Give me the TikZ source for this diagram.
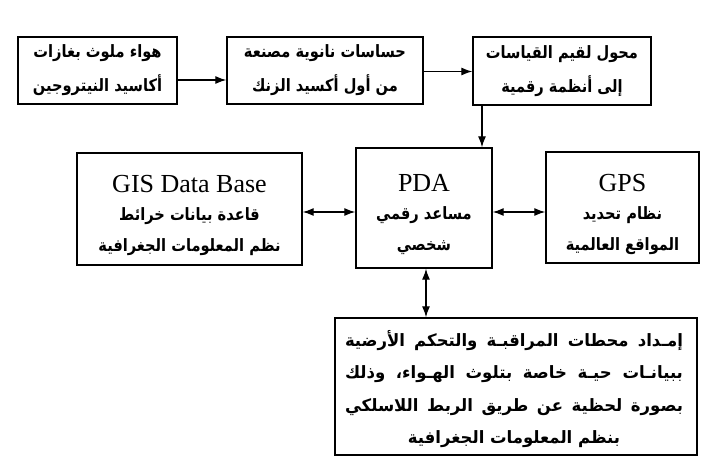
\documentclass[tikz,border=0pt]{standalone}
\usepackage{fontspec}
\setmainfont{Liberation Serif}
\newfontfamily\arabicfont[Script=Arabic,FakeStretch=0.86]{DejaVu Sans}
\newfontfamily\arabicwide[Script=Arabic,FakeStretch=0.97]{DejaVu Sans}
\TeXXeTstate=1
\usetikzlibrary{arrows.meta,calc}
\tikzset{
  box/.style={draw=black, line width=1.4pt, fill=white, align=center, inner sep=0pt},
  ar/.style={align=center, inner sep=0pt, font=\arabicfont\bfseries\fontsize{17}{34}\selectfont},
  ar3/.style={align=center, inner sep=0pt, font=\arabicfont\bfseries\fontsize{17}{31}\selectfont},
  arr/.style={line width=1.2pt, -{Latex[length=11pt,width=8pt]}},
  darr/.style={line width=1.2pt, {Latex[length=11pt,width=8pt]}-{Latex[length=11pt,width=8pt]}},
}
\newcommand{\rl}[1]{\beginR #1\endR}
\newcommand{\rlj}[1]{\makebox[338pt][s]{\arabicwide\bfseries\beginR #1\endR}}
\newcommand{\rlw}[1]{{\arabicwide\bfseries\beginR #1\endR}}
\newcommand{\lat}[1]{{\normalfont\fontsize{26}{30}\selectfont #1}}
\begin{document}
\begin{tikzpicture}[x=1pt,y=-1pt]
\useasboundingbox[fill=white] (0,0) rectangle (714,463);
\node[box, ar, minimum width=159pt, minimum height=67pt] (b1) at (97.5,70.5)
  {\rl{هواء ملوث بغازات}\\\rl{أكاسيد النيتروجين}};
\node[box, ar, minimum width=196pt, minimum height=67pt] (b2) at (325,70.5)
  {\rl{حساسات نانوية مصنعة}\\\rl{من أول أكسيد الزنك}};
\node[box, ar, minimum width=178pt, minimum height=68pt] (b3) at (562,71)
  {\rl{محول لقيم القياسات}\\\rl{إلى أنظمة رقمية}};
\node[box, minimum width=225pt, minimum height=112pt] (gis) at (189.5,209) {};
\node[ar3] (gist) at (189.5,215)
  {\lat{GIS Data Base}\\[-3pt]\rl{قاعدة بيانات خرائط}\\\rl{نظم المعلومات الجغرافية}};
\node[box, minimum width=136pt, minimum height=120pt] (pda) at (424,208) {};
\node[ar3] (pdat) at (424,214)
  {\lat{PDA}\\[-3pt]\rl{مساعد رقمي}\\\rl{شخصي}};
\node[box, minimum width=153pt, minimum height=111pt] (gps) at (622.5,207.5) {};
\node[ar3] (gpst) at (622.5,214)
  {\lat{GPS}\\[-3pt]\rl{نظام تحديد}\\\rl{المواقع العالمية}};
\node[box, minimum width=362pt, minimum height=137pt] (bot) at (516,386.5) {};
\node[ar3, font=\arabicfont\bfseries\fontsize{17}{32.5}\selectfont] (bott) at (514,389)
  {\rlj{إمـداد محطات المراقبـة والتحكم الأرضية}\\\rlj{ببيانـات حيـة خاصة بتلوث الهـواء، وذلك}\\\rlj{بصورة لحظية عن طريق الربط اللاسلكي}\\\rlw{بنظم المعلومات الجغرافية}};
\draw[arr] ([yshift=-9.5pt]b1.east) -- ([yshift=-9.5pt]b1.east -| b2.west);
\draw[arr] ([yshift=-1pt]b2.east) -- ([yshift=-1pt]b2.east -| b3.west);
\draw[arr] ([xshift=-80pt]b3.south) -- ([xshift=-80pt]b3.south |- pda.north);
\draw[darr] ([yshift=-4pt]pda.west -| gis.east) -- ([yshift=-4pt]pda.west);
\draw[darr] ([yshift=-4pt]pda.east) -- ([yshift=-4pt]pda.east -| gps.west);
\draw[darr] ([xshift=2pt]pda.south) -- ([xshift=2pt]pda.south |- bot.north);
\end{tikzpicture}
\end{document}
